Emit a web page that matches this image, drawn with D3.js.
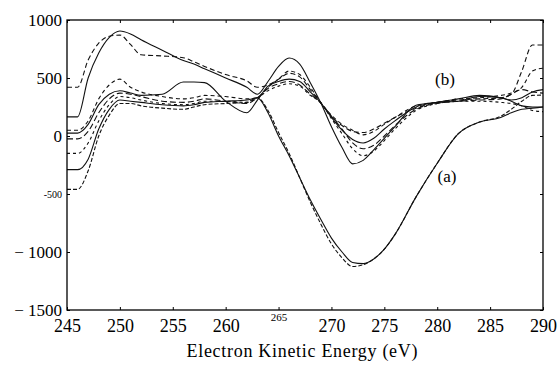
<!DOCTYPE html>
<html><head><meta charset="utf-8">
<script src="https://cdn.jsdelivr.net/npm/d3@7"></script>
<style>body{margin:0;background:#fff}svg{display:block}svg text{font-family:"Liberation Serif",serif}</style>
</head><body><svg id="c" width="557" height="366"></svg>
<script>
const energies = [245,246,247,248,249,250,251,252,254,256,257,258,260,262,263,264,265,266,267,268,269,270,271,272,273,274,275,276,278,280,282,284,286,287,288,289,290];
const xTicks = [245,250,255,260,265,270,275,280,285,290];
const yTicks = [-1500,-1000,-500,0,500,1000];
const yTickLabels = ["\u2212 1500","\u2212 1000","-500","0","500","1000"];

const b1 = [420,420,655,800,860,870,790,700,690,675,640,600,530,475,420,440,490,540,510,400,285,170,90,40,30,60,110,160,240,290,310,320,330,360,560,785,785];
const b2 = [165,165,500,715,850,905,880,830,740,650,620,580,500,420,360,470,600,672,620,460,285,80,-100,-240,-210,-120,-20,80,265,290,300,340,330,300,260,250,250];
const b3 = [50,50,130,320,440,490,420,380,340,320,330,350,340,320,330,420,490,560,530,420,285,180,100,50,10,40,100,160,260,290,320,330,350,370,420,560,585];
const b4 = [25,25,100,270,360,390,370,350,360,465,465,460,300,200,310,430,470,490,470,380,285,160,50,-30,-60,-20,60,130,250,290,320,350,330,310,330,380,400];
const b5 = [-25,-25,40,200,320,370,360,340,300,290,300,320,300,280,330,410,450,470,440,360,285,170,60,-60,-110,-80,0,90,230,280,300,310,320,360,400,380,370];
const b6 = [-150,-150,-60,130,270,340,330,310,280,270,280,300,300,290,330,390,430,450,430,350,285,150,20,-110,-170,-130,-40,60,220,280,300,300,290,280,260,220,210];
const a1 = [-290,-290,-200,60,230,310,300,290,270,260,270,290,300,310,330,200,0,-170,-360,-550,-720,-880,-1000,-1090,-1100,-1060,-975,-850,-525,-235,20,120,160,200,230,240,250];
const a2 = [-460,-460,-300,0,180,280,280,260,240,230,250,270,280,290,330,220,30,-150,-360,-570,-760,-930,-1050,-1125,-1110,-1060,-975,-850,-525,-235,20,120,170,230,300,350,353];

const series = [b1,b2,b3,b4,b5,b6,a1,a2];
const dashes = ["5,3",null,"4,3",null,"6,3","3,3",null,"4,2"];

const svg = d3.select("#c");
const L=67,R=543,T=20,B=310;
const x = d3.scaleLinear().domain([245,290]).range([L,R]);
const y = d3.scaleLinear().domain([-1500,1000]).range([B,T]);
const serif = "Liberation Serif, serif";

const line = d3.line().x((d,i)=>x(energies[i])).y(d=>y(d)).curve(d3.curveMonotoneX);
const g = svg.append("g");
series.forEach((s,i)=>{
  g.append("path").attr("d",line(s)).attr("fill","none").attr("stroke","#111")
   .attr("stroke-width",1.1).attr("stroke-dasharray",dashes[i]);
});

svg.append("rect").attr("x",L).attr("y",T).attr("width",R-L).attr("height",B-T)
  .attr("fill","none").attr("stroke","#000").attr("stroke-width",1.3);

const xb = svg.append("g").attr("transform",`translate(0,${B})`)
  .call(d3.axisBottom(x).tickValues(xTicks).tickSizeInner(-3).tickSizeOuter(0).tickPadding(9));
xb.attr("font-family",null);
xb.select(".domain").remove();
xb.selectAll("text").style("font-family",serif).attr("font-size",18).attr("fill","#000")
  .each(function(d){ if(d===265){ d3.select(this).attr("font-size",11).attr("dy","0.2em"); } });
const xt = svg.append("g").attr("transform",`translate(0,${T})`)
  .call(d3.axisTop(x).tickValues(xTicks).tickSizeInner(-3).tickSizeOuter(0).tickFormat(""));
xt.select(".domain").remove();

const yl = svg.append("g").attr("transform",`translate(${L},0)`)
  .call(d3.axisLeft(y).tickValues(yTicks).tickSizeInner(-3).tickSizeOuter(0).tickPadding(5)
    .tickFormat(d=>yTickLabels[yTicks.indexOf(d)]));
yl.attr("font-family",null);
yl.select(".domain").remove();
yl.selectAll("text").style("font-family",serif).attr("font-size",17).attr("fill","#000")
  .each(function(d){ if(d===-500){ d3.select(this).attr("font-size",10); } });
const yr = svg.append("g").attr("transform",`translate(${R},0)`)
  .call(d3.axisRight(y).tickValues(yTicks).tickSizeInner(-3).tickSizeOuter(0).tickFormat(""));
yr.select(".domain").remove();
svg.selectAll(".tick line").attr("stroke","#000");

svg.append("text").attr("x",445).attr("y",85).attr("text-anchor","middle")
  .style("font-family",serif).attr("font-size",17).text("(b)");
svg.append("text").attr("x",447).attr("y",182).attr("text-anchor","middle")
  .style("font-family",serif).attr("font-size",17).text("(a)");

svg.append("text").attr("x",302).attr("y",357).attr("text-anchor","middle")
  .style("font-family",serif).attr("font-size",18).attr("textLength",231).attr("lengthAdjust","spacing")
  .text("Electron Kinetic Energy (eV)");
</script></body></html>
